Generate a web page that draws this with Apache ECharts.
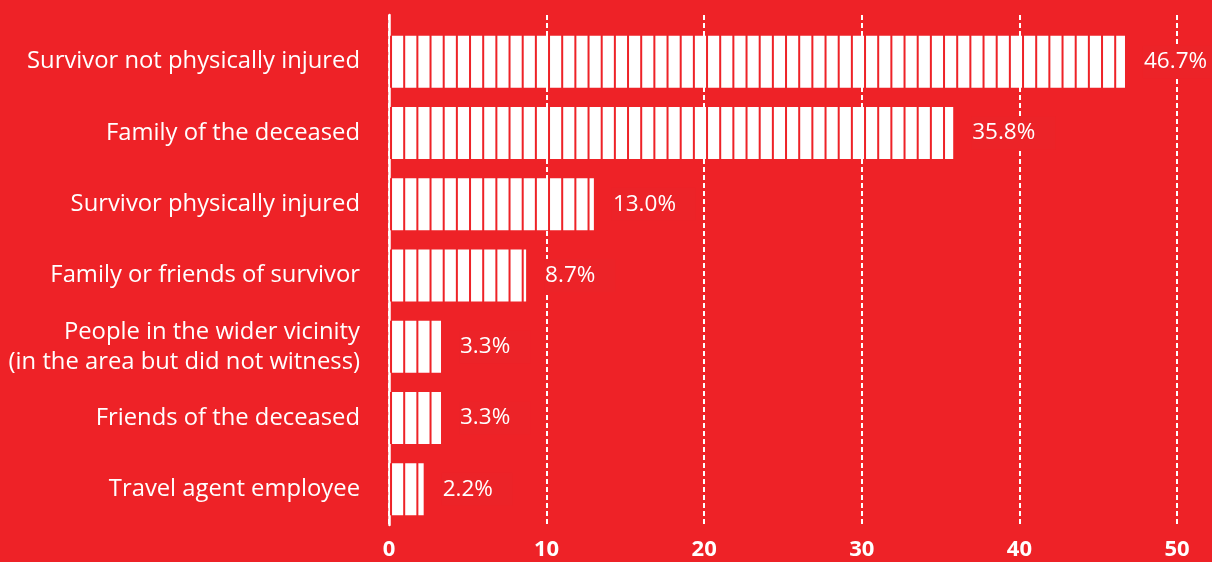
<!DOCTYPE html>
<html>
<head>
<meta charset="utf-8">
<script src="https://cdn.jsdelivr.net/npm/echarts@6/dist/echarts.min.js"></script>
<style>
html,body{margin:0;padding:0;background:#EE2227;}
#c{width:1212px;height:562px;}
</style>
</head>
<body>
<div id="c"></div>
<script>
var categories = [
  'Survivor not physically injured',
  'Family of the deceased',
  'Survivor physically injured',
  'Family or friends of survivor',
  'People in the wider vicinity\n(in the area but did not witness)',
  'Friends of the deceased',
  'Travel agent employee'
];
var values = [46.7, 35.8, 13.0, 8.7, 3.3, 3.3, 2.2];
var xTicks = [0, 10, 20, 30, 40, 50];

var BG = '#EE2227';
var BOX = '#EC2328';
var FONT = '"Open Sans", "Noto Sans", sans-serif';

// stripe pattern: 12 white stripes per 10 units, thin red gaps
function makePattern() {
  var cw = 158;
  var cv = document.createElement('canvas');
  cv.width = cw; cv.height = 4;
  var ctx = cv.getContext('2d');
  ctx.fillStyle = '#ffffff';
  ctx.fillRect(0, 0, cw, 4);
  ctx.fillStyle = BG;
  var p = cw / 12;
  for (var k = 0; k < 12; k++) {
    ctx.fillRect(8.2 + k * p, 0, 2, 4);
  }
  return cv;
}

var chart = echarts.init(document.getElementById('c'));
chart.setOption({
  backgroundColor: BG,
  animation: false,
  grid: [
    {left: 389, right: 35, top: 15, bottom: 37},
    {left: 389, right: 35, top: 26, bottom: 37}
  ],
  xAxis: [
    {
      type: 'value', gridIndex: 0, min: xTicks[0], max: xTicks[xTicks.length - 1], interval: 10,
      axisLine: {show: false}, axisTick: {show: false},
      axisLabel: {color: '#fff', fontSize: 22, fontWeight: 'bold', fontFamily: FONT, margin: 14},
      splitLine: {show: true, lineStyle: {color: '#fff', width: 2, type: [5, 3]}}
    },
    {
      type: 'value', gridIndex: 1, min: xTicks[0], max: xTicks[xTicks.length - 1], show: false
    }
  ],
  yAxis: [
    {
      type: 'value', gridIndex: 0, min: 0, max: 1,
      axisLine: {show: true, lineStyle: {color: '#fff', width: 2.5}},
      axisTick: {show: false}, axisLabel: {show: false}, splitLine: {show: false}
    },
    {
      type: 'category', gridIndex: 1, data: categories, inverse: true,
      axisLine: {show: false}, axisTick: {show: false}, splitLine: {show: false},
      axisLabel: {color: '#fff', fontSize: 23.8, fontFamily: FONT, margin: 29, align: 'right', lineHeight: 30}
    }
  ],
  series: [{
    type: 'bar',
    xAxisIndex: 1, yAxisIndex: 1,
    data: values,
    barWidth: 52,
    z: 3,
    itemStyle: {color: {image: makePattern(), repeat: 'repeat'}},
    label: {
      show: true, position: 'right', distance: 18,
      color: '#fff', fontSize: 22.5, fontFamily: FONT,
      backgroundColor: BOX, padding: [5, 20, 5, 1],
      formatter: function (p) { return p.value.toFixed(1) + '%'; }
    }
  }]
});
</script>
</body>
</html>
